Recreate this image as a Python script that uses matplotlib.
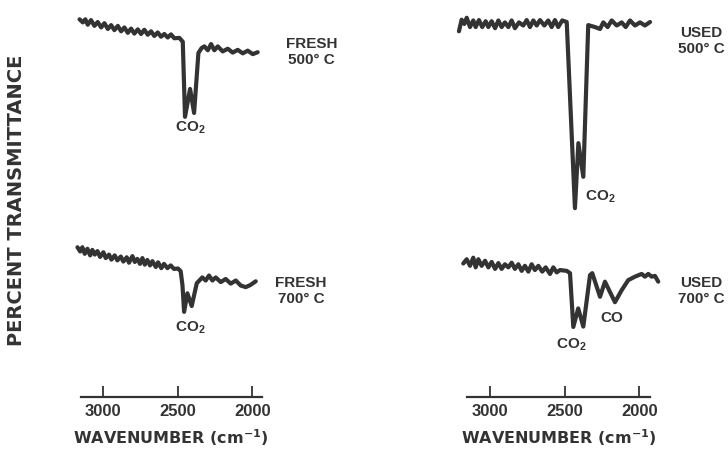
import matplotlib
matplotlib.use("Agg")
import matplotlib.pyplot as plt

plt.rcParams['mathtext.default'] = 'regular'

# wavenumber (cm-1) and transmittance (arbitrary offset %)
wn_fresh500 = [3160, 3138, 3121, 3105, 3083, 3060, 3038, 3015, 2993, 2970, 2948, 2926,
               2903, 2881, 2859, 2836, 2814, 2792, 2769, 2747, 2725, 2702, 2680, 2658,
               2635, 2613, 2591, 2568, 2546, 2524, 2490, 2467, 2452, 2418, 2391, 2362,
               2340, 2322, 2299, 2277, 2255, 2232, 2199, 2165, 2132, 2098, 2064, 2031,
               1997, 1964]
t_fresh500 = [97.6, 96.8, 97.6, 96.2, 97.4, 95.9, 96.9, 95.5, 96.6, 95.1, 96.1, 94.8,
              95.9, 94.5, 95.5, 94.1, 95.2, 93.9, 95.0, 93.8, 94.9, 93.6, 94.5, 93.3,
              94.2, 93.1, 93.8, 92.9, 93.7, 92.7, 92.8, 91.8, 72.4, 79.6, 73.4, 88.9,
              90.2, 90.6, 89.6, 91.2, 89.6, 90.6, 89.3, 90.0, 89.0, 89.7, 88.8, 89.5,
              88.6, 89.1]

wn_fresh700 = [3174, 3156, 3141, 3125, 3107, 3089, 3074, 3058, 3040, 3022, 3000, 2984,
               2962, 2946, 2924, 2906, 2883, 2866, 2843, 2828, 2805, 2789, 2772, 2754,
               2738, 2722, 2705, 2687, 2671, 2648, 2633, 2611, 2593, 2570, 2548, 2526,
               2499, 2481, 2469, 2458, 2436, 2407, 2373, 2336, 2313, 2291, 2268, 2246,
               2212, 2179, 2145, 2111, 2078, 2044, 2015, 1977]
t_fresh700 = [38.7, 37.6, 38.7, 37.0, 38.3, 36.6, 38.0, 36.8, 37.7, 36.2, 37.4, 35.9,
              36.8, 35.5, 36.6, 35.3, 36.3, 35.0, 36.1, 34.7, 36.4, 34.9, 35.7, 34.4,
              35.9, 34.2, 35.4, 34.0, 35.1, 33.6, 34.8, 33.3, 34.4, 33.3, 34.0, 33.1,
              33.2, 32.5, 28.9, 22.0, 26.8, 23.5, 29.4, 30.9, 30.1, 31.4, 30.1, 30.9,
              29.7, 30.5, 29.3, 30.1, 28.8, 28.4, 28.9, 29.9]

wn_used500 = [3208, 3190, 3172, 3156, 3134, 3112, 3096, 3074, 3052, 3029, 3011, 2989,
              2966, 2944, 2922, 2900, 2877, 2855, 2833, 2806, 2777, 2754, 2732, 2710,
              2687, 2665, 2636, 2610, 2587, 2565, 2543, 2516, 2486, 2431, 2408, 2375,
              2342, 2297, 2263, 2241, 2212, 2185, 2151, 2118, 2091, 2062, 2029, 1995,
              1962, 1928]
t_used500 = [94.5, 97.5, 96.4, 98.0, 95.6, 97.3, 95.6, 97.4, 95.6, 97.1, 95.6, 97.1,
             95.3, 97.3, 95.6, 96.8, 95.6, 97.3, 95.3, 96.8, 96.0, 97.4, 95.6, 97.3,
             96.0, 97.4, 96.0, 97.3, 95.6, 97.4, 95.6, 97.3, 96.9, 48.8, 65.6, 56.9,
             96.1, 95.6, 95.1, 96.8, 95.6, 97.3, 96.0, 96.8, 95.6, 97.3, 96.0, 96.8,
             96.0, 96.9]

wn_used700 = [3179, 3156, 3134, 3112, 3096, 3078, 3056, 3033, 3011, 2989, 2966, 2944,
              2922, 2900, 2877, 2855, 2833, 2810, 2788, 2766, 2743, 2721, 2699, 2676,
              2650, 2627, 2598, 2576, 2553, 2531, 2486, 2464, 2442, 2409, 2375, 2330,
              2315, 2263, 2230, 2163, 2118, 2074, 2029, 1984, 1962, 1940, 1917, 1895,
              1873]
t_used700 = [34.5, 35.6, 33.9, 36.0, 33.5, 35.6, 33.9, 35.2, 33.5, 34.9, 33.1, 34.6,
             33.1, 34.3, 33.5, 34.7, 33.1, 34.3, 32.6, 33.9, 32.4, 34.3, 32.8, 33.9,
             32.4, 33.5, 31.8, 33.5, 32.2, 32.8, 32.6, 32.0, 18.1, 22.9, 18.2, 31.5,
             32.0, 25.9, 29.8, 24.5, 27.6, 30.2, 31.1, 31.8, 31.1, 31.8, 31.1, 31.3,
             29.8]

ticks = [3000, 2500, 2000]
ink = "#333333"

fig = plt.figure(figsize=(7.28, 4.49), dpi=100)
ax_l = fig.add_axes([0.1109, 0.1158, 0.2486, 0.8619])
ax_r = fig.add_axes([0.6419, 0.1158, 0.2510, 0.8619])


def setup(ax, xmin, xmax):
    ax.set_xlim(xmin, xmax)
    ax.set_ylim(0, 100)
    for s in ["top", "left", "right"]:
        ax.spines[s].set_visible(False)
    ax.spines["bottom"].set_color(ink)
    ax.spines["bottom"].set_linewidth(1.6)
    ax.set_yticks([])
    ax.set_xticks(ticks)
    ax.tick_params(axis="x", direction="in", length=8, width=1.3, color=ink,
                   pad=5, labelcolor=ink)
    for lab in ax.get_xticklabels():
        lab.set_fontfamily("Liberation Sans")
        lab.set_fontweight("bold")
        lab.set_fontsize(12)
    ax.set_xlabel("WAVENUMBER (cm$^{-1}$)", family="DejaVu Sans", fontweight="bold",
                  fontsize=11.5, color=ink, labelpad=6)
    ax.patch.set_visible(False)


setup(ax_l, 3152, 1937)
setup(ax_r, 3152, 1928)

lw = 3.0
for ax, wn, t in [(ax_l, wn_fresh500, t_fresh500), (ax_l, wn_fresh700, t_fresh700),
                  (ax_r, wn_used500, t_used500), (ax_r, wn_used700, t_used700)]:
    ax.plot(wn, t, color=ink, lw=lw, clip_on=False,
            solid_joinstyle="round", solid_capstyle="round")

lbl = dict(family="Liberation Sans", fontweight="bold", fontsize=11, color=ink,
           ha="center", va="center", multialignment="center", linespacing=1.15)
mol = dict(family="Liberation Sans", fontweight="bold", fontsize=11, color=ink,
           ha="center", va="center")

ax_l.text(1601, 89.1, "FRESH\n500° C", **lbl)
ax_l.text(2418, 69.5, "CO$_2$", **mol)
ax_l.text(1673, 27.4, "FRESH\n700° C", **lbl)
ax_l.text(2418, 17.8, "CO$_2$", **mol)

ax_r.text(1587, 92.0, "USED\n500° C", **lbl)
ax_r.text(2263, 51.7, "CO$_2$", **mol)
ax_r.text(1587, 27.4, "USED\n700° C", **lbl)
ax_r.text(2457, 13.4, "CO$_2$", **mol)
ax_r.text(2183, 20.4, "CO", **mol)

fig.text(17 / 728, 1 - 200 / 449, "PERCENT TRANSMITTANCE", rotation=90,
         family="DejaVu Sans", fontweight="bold", fontsize=14, color=ink,
         ha="center", va="center")

fig.savefig("out.png", dpi=100)
